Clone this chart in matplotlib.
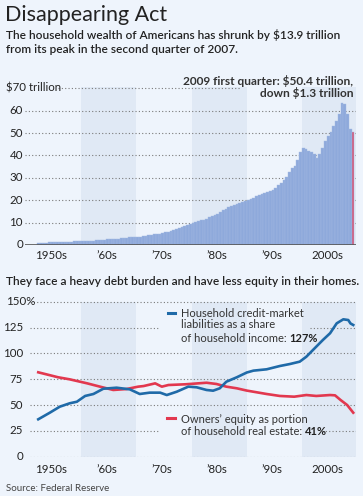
import matplotlib
matplotlib.use('Agg')
import matplotlib.pyplot as plt
from matplotlib.transforms import blended_transform_factory

plt.rcParams['font.family'] = ['Lato', 'DejaVu Sans']

# ---------------- datos ----------------
# Riqueza de los hogares (billones USD), semestral desde 1952 hasta 2009T1
wealth_start = 1952.0
wealth = [1.0, 1.05, 1.1, 1.1, 1.15, 1.2, 1.25, 1.3, 1.35, 1.4,
          1.45, 1.45, 1.5, 1.6, 1.65, 1.7, 1.75, 1.8, 1.9, 2.0,
          2.0, 2.1, 2.2, 2.3, 2.4, 2.5, 2.6, 2.7, 2.75, 2.8,
          2.95, 3.1, 3.25, 3.4, 3.5, 3.55, 3.6, 3.75, 3.95, 4.1,
          4.3, 4.5, 4.7, 4.8, 5.0, 5.2, 5.6, 5.9, 6.3, 6.6,
          7.0, 7.4, 7.9, 8.4, 8.9, 9.4, 9.8, 10.3, 10.7, 11.0,
          11.2, 11.7, 12.3, 12.8, 13.3, 13.8, 14.6, 15.6, 16.3, 16.9,
          17.5, 17.9, 18.3, 18.7, 19.2, 19.8, 20.3, 20.6, 21.2, 21.8,
          22.2, 22.8, 23.3, 23.8, 24.1, 24.5, 25.5, 26.8, 27.8, 29.0,
          30.5, 32.5, 34.5, 35.5, 38.0, 41.5, 43.2, 42.8, 41.8, 41.5,
          40.5, 38.8, 40.5, 43.5, 46.5, 48.5, 50.5, 53.0, 55.5, 58.5,
          63.5, 63.0, 58.5, 51.7, 50.4]

# Deuda de los hogares como % del ingreso
debt_years = [1952.2, 1954.3, 1956.1, 1957.9, 1959.2, 1960.7, 1962.2, 1964.0, 1966.4,
              1968.8, 1970.6, 1972.4, 1974.3, 1975.5, 1977.3, 1979.4, 1980.9, 1982.7,
              1983.9, 1985.1, 1986.3, 1988.2, 1990.0, 1991.2, 1993.6, 1996.0, 1997.8,
              1999.6, 2000.8, 2002.0, 2003.8, 2005.1, 2006.3, 2007.5, 2008.4, 2008.8, 2009.3]
debt_pct = [36.2, 42.6, 48.4, 51.7, 53.2, 58.8, 60.7, 65.8, 66.8,
            65.2, 60.7, 62.0, 62.0, 59.7, 62.9, 67.8, 67.2, 64.6,
            63.9, 66.2, 72.6, 76.9, 81.5, 83.3, 84.6, 87.8, 89.7,
            92.0, 96.8, 103.3, 113.0, 119.5, 129.1, 133.0, 132.3, 129.0, 127.5]

# Capital propio como % del valor inmobiliario
equity_years = [1952.2, 1955.8, 1957.9, 1961.0, 1963.4, 1965.8, 1968.2, 1970.3, 1971.3,
                1973.4, 1974.6, 1975.8, 1978.9, 1982.7, 1984.5, 1986.3, 1988.2, 1990.0,
                1991.2, 1993.6, 1996.0, 1998.6, 2000.8, 2002.6, 2005.1, 2006.0, 2007.0,
                2008.2, 2009.3]
equity_pct = [81.7, 76.9, 74.9, 71.1, 67.8, 64.6, 65.5, 67.8, 68.4,
              71.0, 67.8, 69.4, 70.1, 71.6, 70.4, 67.8, 66.2, 64.0,
              62.9, 60.7, 58.8, 58.1, 59.7, 58.8, 59.7, 59.4, 54.9,
              50.0, 42.6]

decades = [1950, 1960, 1970, 1980, 1990, 2000]
decade_labels = ['1950s', '\u201960s', '\u201970s', '\u201980s', '\u201990s', '2000s']
top_ticks = [0, 10, 20, 30, 40, 50, 60]
bottom_ticks = [0, 25, 50, 75, 100, 125]

# ---------------- estilo ----------------
W, H = 363, 496
BG = '#eef4fc'
BAND = '#e0e9f5'
BAR = '#8ea9db'
LAST = '#d4587a'
BLUE = '#1f6aa8'
RED = '#e2384f'
TXT = '#222222'
GRID = '#7a7a7a'
X0, X1 = 1949.8, 2009.8

fig = plt.figure(figsize=(W / 100, H / 100), dpi=100)
fig.patch.set_facecolor(BG)


def px(x, y):
    # convierte pixeles (desde arriba-izquierda) a fraccion de figura
    return x / W, 1 - y / H


def ptext(x, y, s, **kw):
    return fig.text(*px(x, y), s, **kw)


def yr(xpix):
    # pixel horizontal -> año en los ejes
    return X0 + (xpix - 25) / 5.52


# ---------------- titulos ----------------
ptext(5, 21, 'Disappearing Act', fontsize=15.5, color=TXT, va='baseline')
ptext(6, 39, 'The household wealth of Americans has shrunk by $13.9 trillion',
      fontsize=8.6, color=TXT, va='baseline', fontweight='semibold')
ptext(6, 53, 'from its peak in the second quarter of 2007.',
      fontsize=8.6, color=TXT, va='baseline', fontweight='semibold')

# ---------------- grafico superior ----------------
ax1 = fig.add_axes([25 / W, (H - 245) / H, 331 / W, (245 - 83.8) / H])
ax1.set_facecolor('none')
ax1.set_xlim(X0, X1)
ax1.set_ylim(0, 72)
ax1.axis('off')

for d in decades[1::2]:
    ax1.axvspan(d, d + 10, ymin=0, ymax=70.5 / 72, color=BAND, lw=0, zorder=0)

for t in top_ticks[1:]:
    ax1.hlines(t, X0, X1, colors=GRID, lw=0.8, linestyles=(0, (1, 2)), zorder=1)
ax1.hlines(70, yr(58), yr(240), colors=GRID, lw=0.8, linestyles=(0, (1, 2)), zorder=1)

xs = [wealth_start + 0.5 * i for i in range(len(wealth))]
cols = [BAR] * (len(wealth) - 1) + [LAST]
ax1.bar(xs, wealth, width=0.5, color=cols, edgecolor='#a3b9e2', lw=0.3,
        align='edge', zorder=2)
ax1.hlines(0, X0, X1, colors='#555555', lw=1.2, zorder=3)

tr1 = blended_transform_factory(ax1.transAxes, ax1.transData)
for t in top_ticks:
    ax1.text(-2 / 331, t, str(t), transform=tr1, ha='right', va='center',
             fontsize=8.3, color=TXT)
ax1.text(-19 / 331, 70, '$70 trillion', transform=tr1, ha='left', va='center',
         fontsize=8.3, color=TXT)

for d, lab in zip(decades, decade_labels):
    ax1.text(d + 4.6, -4.5, lab, ha='center', va='center', fontsize=8.3, color=TXT)

ptext(353, 85, '2009 first quarter: $50.4 trillion,', ha='right', va='baseline',
      fontsize=8.6, fontweight='bold', color='#333333')
ptext(353, 97, 'down $1.3 trillion', ha='right', va='baseline',
      fontsize=8.6, fontweight='bold', color='#333333')

# ---------------- grafico inferior ----------------
ptext(6, 285, 'They face a heavy debt burden and have less equity in their homes.',
      fontsize=8.6, color=TXT, va='baseline', fontweight='semibold')

ax2 = fig.add_axes([25 / W, (H - 456.7) / H, 331 / W, 152 * 1.033 / H])
ax2.set_facecolor('none')
ax2.set_xlim(X0, X1)
ax2.set_ylim(0, 152)
ax2.axis('off')

for d in decades[1::2]:
    ax2.axvspan(d, d + 10, ymin=0, ymax=150 / 152, color=BAND, lw=0, zorder=0)

g0 = yr(30)
for t in [0, 50, 75, 100, 150]:
    ax2.hlines(t, g0, X1, colors=GRID, lw=0.8, linestyles=(0, (1, 2)), zorder=1)
ax2.hlines(125, g0, yr(160), colors=GRID, lw=0.8, linestyles=(0, (1, 2)), zorder=1)
ax2.hlines(125, yr(310), X1, colors=GRID, lw=0.8, linestyles=(0, (1, 2)), zorder=1)
ax2.hlines(25, g0, yr(160), colors=GRID, lw=0.8, linestyles=(0, (1, 2)), zorder=1)
ax2.hlines(25, yr(322), X1, colors=GRID, lw=0.8, linestyles=(0, (1, 2)), zorder=1)

ax2.plot(equity_years, equity_pct, color=RED, lw=1.9, zorder=3, solid_joinstyle='round')
ax2.plot(debt_years, debt_pct, color=BLUE, lw=1.9, zorder=4, solid_joinstyle='round')

tr2 = blended_transform_factory(ax2.transAxes, ax2.transData)
for t in bottom_ticks:
    ax2.text(-2 / 331, t, str(t), transform=tr2, ha='right', va='center',
             fontsize=8.3, color=TXT)
ax2.text(-19 / 331, 150, '150%', transform=tr2, ha='left', va='center',
         fontsize=8.3, color=TXT)

for d, lab in zip(decades, decade_labels):
    ax2.text(d + 4.6, -12.5, lab, ha='center', va='center', fontsize=8.3, color=TXT)

# leyendas en linea
ax2.plot([yr(168), yr(175)], [138.8, 138.8], color=BLUE, lw=2.2)
ax2.plot([yr(167), yr(175)], [37, 37], color=RED, lw=2.2)

LEG = '#333333'
ptext(181, 316.7, 'Household credit-market', fontsize=8, color=LEG, va='baseline')
ptext(181, 328.3, 'liabilities as a share', fontsize=8, color=LEG, va='baseline')
t1 = ptext(181, 341.7, 'of household income: ', fontsize=8, color=LEG, va='baseline')
ax2.annotate('127%', xy=(1, 0), xycoords=t1, ha='left', va='bottom',
             fontsize=8, fontweight='bold', color='#222222')

ptext(181, 422.7, 'Owners\u2019 equity as portion', fontsize=8, color=LEG, va='baseline')
t2 = ptext(181, 435, 'of household real estate: ', fontsize=8, color=LEG, va='baseline')
ax2.annotate('41%', xy=(1, 0), xycoords=t2, ha='left', va='bottom',
             fontsize=8, fontweight='bold', color='#222222')

ptext(6, 491, 'Source: Federal Reserve', fontsize=7, color='#444444', va='baseline')

fig.savefig('out.png', dpi=100, facecolor=BG)
